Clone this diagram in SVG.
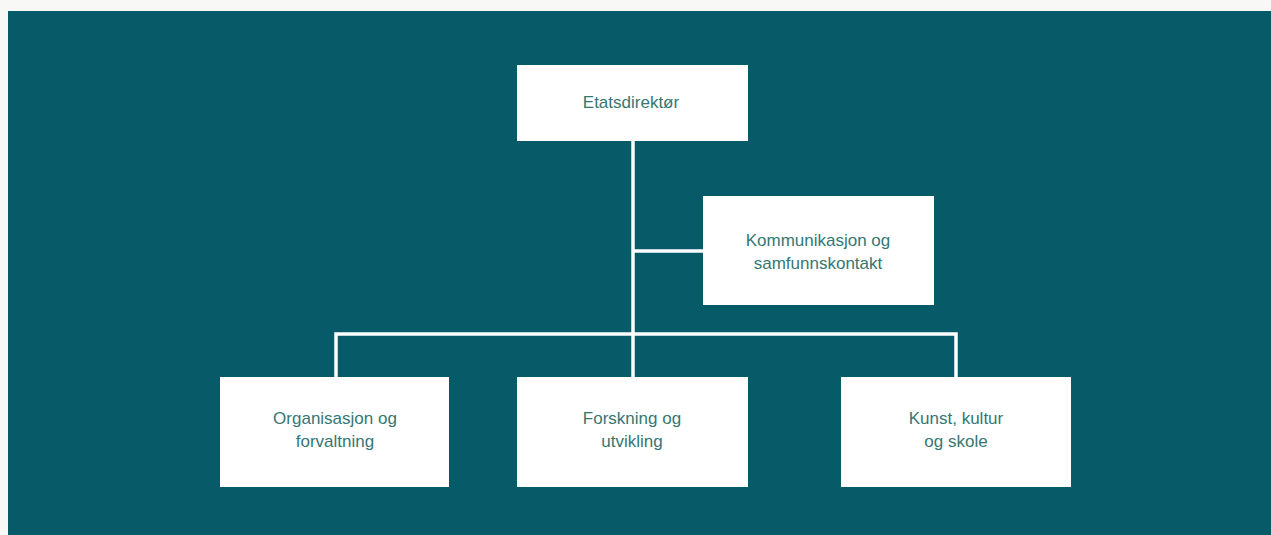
<svg xmlns="http://www.w3.org/2000/svg" width="1271" height="535" viewBox="0 0 1271 535">
<style>
.box{fill:#ffffff}
.lbl{font-family:"Liberation Sans",Arial,sans-serif;font-size:17px;fill:#357773;text-anchor:middle}
.con{stroke:#ffffff;stroke-width:3.5;fill:none}
</style>
<rect x="0" y="0" width="1271" height="535" fill="#f8f8f6"/>
<rect x="8" y="11" width="1263" height="524" fill="#075a68"/>
<g id="connectors">
<path class="con" d="M633 141 V334"/>
<path class="con" d="M633 251 H703"/>
<path class="con" d="M336 377 V334 H956 V377"/>
<path class="con" d="M633 334 V377"/>
</g>
<g id="etatsdirektor">
<rect class="box" x="517" y="65" width="231" height="76"/>
<text class="lbl" x="631" y="108">Etatsdirektør</text>
</g>
<g id="kommunikasjon">
<rect class="box" x="703" y="196" width="231" height="109"/>
<text class="lbl" x="818" y="246">Kommunikasjon og</text>
<text class="lbl" x="818" y="269">samfunnskontakt</text>
</g>
<g id="organisasjon">
<rect class="box" x="220" y="377" width="229" height="110"/>
<text class="lbl" x="335" y="424">Organisasjon og</text>
<text class="lbl" x="335" y="447">forvaltning</text>
</g>
<g id="forskning">
<rect class="box" x="517" y="377" width="231" height="110"/>
<text class="lbl" x="632" y="424">Forskning og</text>
<text class="lbl" x="632" y="447">utvikling</text>
</g>
<g id="kunst">
<rect class="box" x="841" y="377" width="230" height="110"/>
<text class="lbl" x="956" y="424">Kunst, kultur</text>
<text class="lbl" x="956" y="447">og skole</text>
</g>
</svg>
